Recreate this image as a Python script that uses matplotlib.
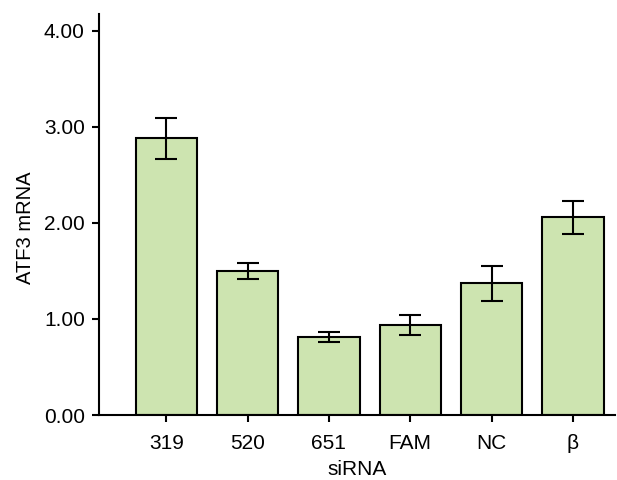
import numpy as np
import matplotlib.pyplot as plt

plt.rcParams['font.family'] = ['Liberation Sans', 'DejaVu Sans']

# data
groups = ['319', '520', '651', 'FAM', 'NC', 'β']
means = [2.88, 1.50, 0.81, 0.94, 1.37, 2.06]
errs = [0.21, 0.08, 0.05, 0.105, 0.18, 0.17]

fig = plt.figure(figsize=(6.17, 4.80), dpi=100)
ax = fig.add_axes([0.160, 0.1354, 0.837, 0.8356])

x = np.arange(len(groups))
ax.bar(x, means, width=0.755, color='#cde4b0', edgecolor='black', linewidth=1.5,
       yerr=errs, capsize=7.8, error_kw=dict(elinewidth=1.5, capthick=1.5, ecolor='black'))

ax.set_xlim(-0.83, 5.52)
ax.set_ylim(0, 4.177)
ax.set_yticks([0, 1, 2, 3, 4])
ax.set_yticklabels(['0.00', '1.00', '2.00', '3.00', '4.00'])
ax.set_xticks(x)
ax.set_xticklabels(groups)

ax.spines['top'].set_visible(False)
ax.spines['right'].set_visible(False)
ax.spines['left'].set_linewidth(1.5)
ax.spines['bottom'].set_linewidth(1.5)
ax.tick_params(axis='both', direction='out', length=5, width=1.5, labelsize=15, pad=5)
ax.tick_params(axis='x', pad=9)

ax.set_xlabel('siRNA', fontsize=15, labelpad=5)
ax.set_ylabel('ATF3 mRNA', fontsize=14.5)
ax.yaxis.set_label_coords(-0.123, 0.468)

fig.savefig('out.png', dpi=100)
